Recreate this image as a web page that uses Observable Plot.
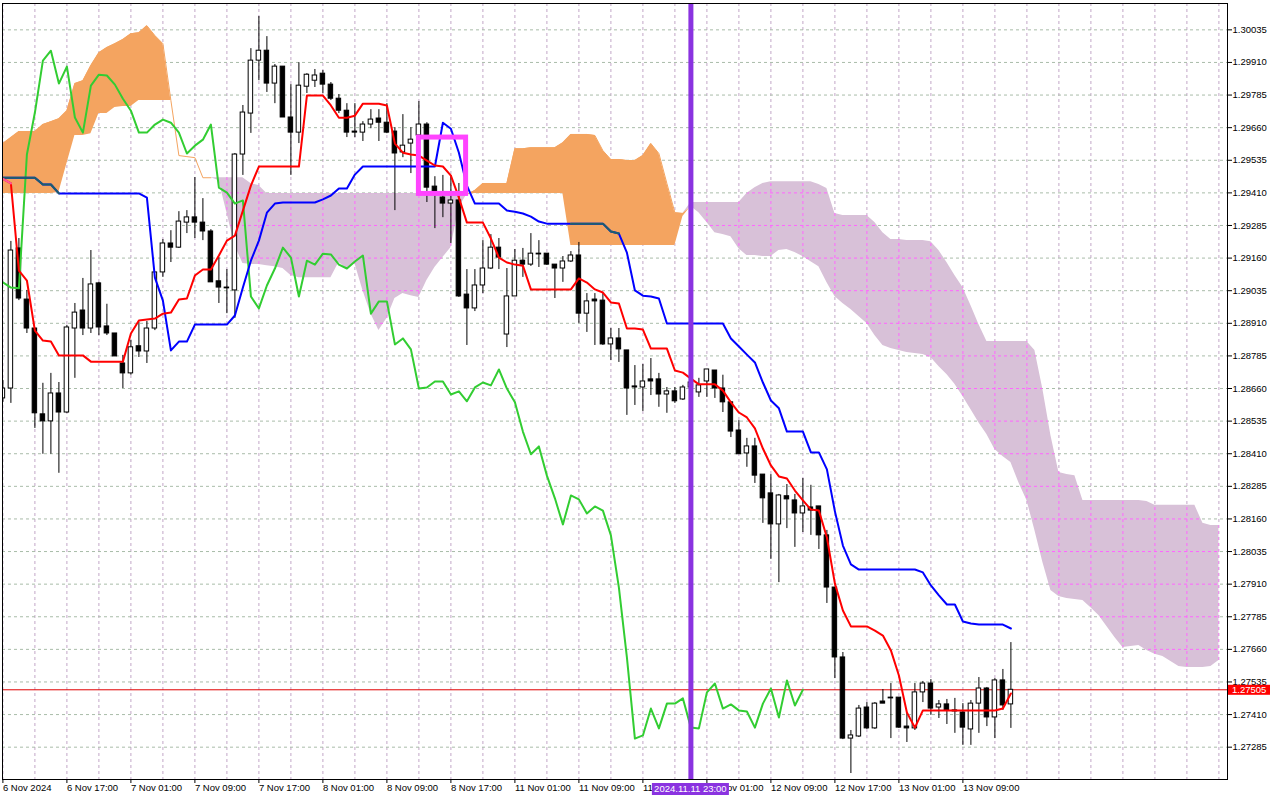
<!DOCTYPE html>
<html>
<head>
<meta charset="utf-8">
<script src="https://cdn.jsdelivr.net/npm/d3@7"></script>
<script src="https://cdn.jsdelivr.net/npm/@observablehq/plot@0.6"></script>
<style>
  html, body { margin: 0; padding: 0; background: #fff; }
  #chart { width: 1280px; height: 800px; }
</style>
</head>
<body>
<div id="chart"></div>
<script>
// ---------- data (hourly bars, index 0 = 6 Nov 2024 09:00) ----------
const open = [
1.28622,1.28660,1.29197,1.29001,1.28890,1.28561,1.28534,1.28641,1.28568,1.28890,
1.28959,1.28890,1.29063,1.28898,1.28871,1.28756,1.28718,1.28822,1.28802,1.28890,
1.29105,1.29216,1.29200,1.29296,1.29316,1.29296,1.29262,1.29071,1.29047,1.29036,
1.29557,1.29714,1.29917,1.29955,1.29829,1.29894,1.29699,1.29641,1.29817,1.29840,
1.29867,1.29825,1.29771,1.29725,1.29645,1.29641,1.29672,1.29695,1.29679,1.29645,
1.29565,1.29599,1.29630,1.29672,1.29434,1.29392,1.29369,1.29381,1.29020,1.28967,
1.29055,1.29120,1.29200,1.28867,1.29013,1.29150,1.29135,1.29177,1.29177,1.29135,
1.29120,1.29147,1.29170,1.28947,1.29001,1.28997,1.28829,1.28852,1.28806,1.28668,
1.28664,1.28695,1.28695,1.28637,1.28649,1.28618,1.28664,1.28645,1.28687,1.28729,
1.28660,1.28607,1.28499,1.28411,1.28438,1.28330,1.28258,1.28139,1.28247,1.28231,
1.28181,1.28204,1.28208,1.28097,1.27897,1.27629,1.27318,1.27326,1.27437,1.27357,
1.27460,1.27475,1.27475,1.27364,1.27357,1.27495,1.27529,1.27437,1.27449,1.27426,
1.27418,1.27353,1.27452,1.27510,1.27399,1.27541,1.27449];
const high = [
1.28691,1.29224,1.29235,1.29036,1.28890,1.28680,1.28718,1.28683,1.28902,1.28986,
1.29082,1.29189,1.29067,1.28983,1.28871,1.28787,1.28844,1.28914,1.28917,1.29105,
1.29231,1.29265,1.29338,1.29342,1.29469,1.29388,1.29269,1.29162,1.29116,1.29561,
1.29745,1.29963,1.30086,1.30009,1.29902,1.29894,1.29825,1.29909,1.29867,1.29883,
1.29879,1.29833,1.29787,1.29752,1.29752,1.29683,1.29729,1.29729,1.29752,1.29660,
1.29710,1.29660,1.29760,1.29679,1.29472,1.29477,1.29477,1.29446,1.29116,1.29116,
1.29227,1.29250,1.29235,1.29120,1.29193,1.29197,1.29254,1.29227,1.29177,1.29135,
1.29166,1.29185,1.29220,1.29024,1.29024,1.29024,1.28890,1.28890,1.28806,1.28748,
1.28752,1.28775,1.28718,1.28664,1.28664,1.28672,1.28699,1.28699,1.28733,1.28729,
1.28711,1.28607,1.28537,1.28469,1.28469,1.28330,1.28330,1.28254,1.28292,1.28254,
1.28315,1.28289,1.28208,1.28116,1.27897,1.27648,1.27349,1.27445,1.27456,1.27456,
1.27506,1.27529,1.27475,1.27414,1.27529,1.27537,1.27544,1.27464,1.27468,1.27472,
1.27452,1.27464,1.27552,1.27514,1.27548,1.27583,1.27686];
const low = [
1.28607,1.28603,1.28997,1.28871,1.28507,1.28408,1.28408,1.28335,1.28565,1.28699,
1.28863,1.28871,1.28863,1.28863,1.28783,1.28660,1.28711,1.28779,1.28756,1.28882,
1.29086,1.29143,1.29197,1.29254,1.29235,1.29227,1.29067,1.28986,1.28947,1.28929,
1.29477,1.29638,1.29840,1.29795,1.29752,1.29699,1.29477,1.29599,1.29791,1.29814,
1.29791,1.29764,1.29714,1.29622,1.29622,1.29607,1.29656,1.29607,1.29637,1.29342,
1.29545,1.29484,1.29572,1.29373,1.29273,1.29315,1.29216,1.29009,1.28825,1.28955,
1.29024,1.29116,1.29116,1.28817,1.29013,1.29086,1.29128,1.29124,1.29132,1.29005,
1.29067,1.29143,1.28910,1.28875,1.28825,1.28825,1.28767,1.28760,1.28557,1.28595,
1.28572,1.28633,1.28588,1.28565,1.28603,1.28614,1.28645,1.28626,1.28626,1.28622,
1.28568,1.28472,1.28408,1.28358,1.28296,1.28143,1.28005,1.27916,1.28123,1.28051,
1.28108,1.28097,1.28043,1.27836,1.27548,1.27314,1.27184,1.27322,1.27353,1.27353,
1.27452,1.27318,1.27357,1.27303,1.27349,1.27456,1.27407,1.27395,1.27372,1.27338,
1.27292,1.27292,1.27338,1.27364,1.27318,1.27426,1.27357];
const close = [
1.28660,1.29189,1.29005,1.28890,1.28565,1.28534,1.28641,1.28568,1.28894,1.28951,
1.28890,1.29059,1.28894,1.28871,1.28783,1.28718,1.28818,1.28802,1.28890,1.29105,
1.29216,1.29200,1.29300,1.29316,1.29296,1.29262,1.29067,1.29047,1.29044,1.29557,
1.29718,1.29917,1.29955,1.29829,1.29894,1.29699,1.29641,1.29821,1.29863,1.29860,
1.29825,1.29771,1.29725,1.29641,1.29641,1.29672,1.29691,1.29679,1.29641,1.29561,
1.29591,1.29614,1.29672,1.29430,1.29411,1.29369,1.29381,1.29013,1.28967,1.29055,
1.29120,1.29200,1.29162,1.29013,1.29150,1.29135,1.29177,1.29174,1.29135,1.29120,
1.29147,1.29170,1.28947,1.28994,1.28994,1.28829,1.28852,1.28810,1.28660,1.28664,
1.28687,1.28687,1.28637,1.28649,1.28611,1.28664,1.28683,1.28672,1.28733,1.28660,
1.28607,1.28495,1.28408,1.28438,1.28326,1.28239,1.28139,1.28250,1.28235,1.28181,
1.28208,1.28192,1.28097,1.27897,1.27629,1.27318,1.27330,1.27433,1.27357,1.27452,
1.27452,1.27472,1.27360,1.27357,1.27495,1.27529,1.27433,1.27449,1.27426,1.27422,
1.27360,1.27452,1.27510,1.27399,1.27541,1.27445,1.27505];

// Tenkan-sen (red) and Kijun-sen (blue), one value per bar
const tenkan = [
1.29464,1.29446,1.29112,1.29074,1.28882,1.28844,1.28840,1.28787,1.28787,1.28787,
1.28787,1.28763,1.28763,1.28763,1.28763,1.28763,1.28871,1.28921,1.28925,1.28928,
1.28947,1.28951,1.29001,1.29005,1.29093,1.29116,1.29116,1.29170,1.29227,1.29246,
1.29342,1.29438,1.29511,1.29511,1.29511,1.29511,1.29511,1.29511,1.29783,1.29783,
1.29783,1.29745,1.29698,1.29698,1.29706,1.29752,1.29752,1.29752,1.29745,1.29599,
1.29564,1.29557,1.29553,1.29534,1.29515,1.29511,1.29476,1.29392,1.29296,1.29296,
1.29296,1.29235,1.29162,1.29143,1.29135,1.29131,1.29040,1.29040,1.29040,1.29040,
1.29040,1.29040,1.29082,1.29066,1.29040,1.29028,1.28990,1.28986,1.28890,1.28890,
1.28886,1.28813,1.28813,1.28813,1.28729,1.28721,1.28698,1.28676,1.28676,1.28676,
1.28652,1.28607,1.28568,1.28549,1.28507,1.28430,1.28365,1.28323,1.28315,1.28269,
1.28231,1.28196,1.28192,1.28089,1.27912,1.27809,1.27748,1.27748,1.27748,1.27732,
1.27713,1.27656,1.27560,1.27418,1.27360,1.27426,1.27426,1.27426,1.27426,1.27426,
1.27426,1.27426,1.27426,1.27426,1.27426,1.27433,1.27491];
const kijun = [
1.29468,1.29468,1.29468,1.29468,1.29468,1.29442,1.29442,1.29408,1.29408,1.29408,
1.29408,1.29408,1.29408,1.29408,1.29408,1.29408,1.29408,1.29408,1.29392,1.29085,
1.28997,1.28806,1.28840,1.28840,1.28905,1.28905,1.28905,1.28905,1.28905,1.28940,
1.29047,1.29150,1.29227,1.29334,1.29369,1.29373,1.29373,1.29373,1.29373,1.29373,
1.29385,1.29400,1.29427,1.29427,1.29480,1.29511,1.29511,1.29511,1.29511,1.29511,
1.29511,1.29511,1.29511,1.29511,1.29511,1.29679,1.29656,1.29564,1.29438,1.29369,
1.29369,1.29369,1.29369,1.29342,1.29338,1.29331,1.29319,1.29300,1.29292,1.29292,
1.29292,1.29292,1.29292,1.29292,1.29292,1.29292,1.29262,1.29254,1.29181,1.29036,
1.29016,1.29013,1.29005,1.28909,1.28909,1.28909,1.28909,1.28909,1.28909,1.28909,
1.28909,1.28852,1.28821,1.28790,1.28760,1.28683,1.28614,1.28584,1.28495,1.28495,
1.28495,1.28415,1.28415,1.28350,1.28189,1.28058,1.27986,1.27966,1.27966,1.27966,
1.27966,1.27966,1.27966,1.27966,1.27966,1.27955,1.27905,1.27867,1.27832,1.27832,
1.27767,1.27759,1.27755,1.27755,1.27755,1.27755,1.27740];

// Senkou Span A / B as plotted (already shifted 26 bars ahead), bars 0..152
const spanA = [
1.29599,1.29622,1.29645,1.29645,1.29645,1.29672,1.29683,1.29694,1.29725,1.29829,
1.29840,1.29898,1.29947,1.29967,1.29982,1.29998,1.30020,1.30024,1.30051,1.30013,
1.29982,1.29764,1.29553,1.29549,1.29545,1.29468,1.29468,1.29457,1.29334,1.29208,
1.29139,1.29135,1.29135,1.29131,1.29127,1.29120,1.29093,1.29085,1.29085,1.29085,
1.29085,1.29085,1.29143,1.29120,1.29139,1.29036,1.28947,1.28882,1.28928,1.29005,
1.29024,1.29016,1.29009,1.29074,1.29124,1.29162,1.29200,1.29354,1.29404,1.29419,
1.29446,1.29446,1.29446,1.29446,1.29579,1.29579,1.29583,1.29583,1.29583,1.29583,
1.29602,1.29634,1.29634,1.29634,1.29630,1.29572,1.29538,1.29538,1.29534,1.29534,
1.29553,1.29599,1.29561,1.29446,1.29334,1.29331,1.29358,1.29334,1.29296,1.29257,
1.29250,1.29242,1.29196,1.29170,1.29170,1.29166,1.29166,1.29189,1.29193,1.29181,
1.29166,1.29146,1.29127,1.29066,1.29013,1.28986,1.28963,1.28936,1.28909,1.28863,
1.28825,1.28813,1.28806,1.28798,1.28794,1.28790,1.28779,1.28744,1.28714,1.28676,
1.28629,1.28580,1.28529,1.28484,1.28426,1.28399,1.28376,1.28299,1.28231,1.28116,
1.27993,1.27886,1.27863,1.27855,1.27851,1.27847,1.27820,1.27790,1.27748,1.27705,
1.27667,1.27671,1.27675,1.27656,1.27641,1.27633,1.27613,1.27594,1.27590,1.27590,
1.27590,1.27594,1.27617];
const spanB = [
1.29408,1.29408,1.29408,1.29408,1.29408,1.29408,1.29408,1.29411,1.29522,1.29630,
1.29630,1.29637,1.29714,1.29714,1.29737,1.29741,1.29741,1.29764,1.29764,1.29764,
1.29764,1.29764,1.29553,1.29549,1.29545,1.29468,1.29468,1.29468,1.29468,1.29468,
1.29468,1.29446,1.29438,1.29408,1.29408,1.29408,1.29408,1.29408,1.29408,1.29408,
1.29408,1.29408,1.29408,1.29408,1.29408,1.29408,1.29408,1.29408,1.29408,1.29408,
1.29408,1.29408,1.29408,1.29408,1.29408,1.29408,1.29408,1.29408,1.29404,1.29408,
1.29408,1.29408,1.29408,1.29408,1.29408,1.29408,1.29408,1.29408,1.29408,1.29408,
1.29408,1.29208,1.29208,1.29208,1.29208,1.29208,1.29208,1.29208,1.29208,1.29208,
1.29208,1.29208,1.29208,1.29208,1.29208,1.29319,1.29373,1.29373,1.29373,1.29373,
1.29373,1.29373,1.29373,1.29408,1.29430,1.29446,1.29453,1.29453,1.29453,1.29453,
1.29453,1.29453,1.29442,1.29427,1.29331,1.29323,1.29323,1.29323,1.29323,1.29296,
1.29257,1.29231,1.29231,1.29227,1.29227,1.29227,1.29223,1.29189,1.29143,1.29093,
1.29047,1.28978,1.28905,1.28840,1.28840,1.28840,1.28840,1.28840,1.28840,1.28806,
1.28656,1.28480,1.28338,1.28330,1.28326,1.28231,1.28231,1.28231,1.28231,1.28231,
1.28231,1.28231,1.28231,1.28227,1.28212,1.28212,1.28212,1.28212,1.28212,1.28212,
1.28143,1.28135,1.28135];

const chikouShift = 26;           // Chikou span = close plotted 26 bars back
const priceTicks = [1.30035,1.29910,1.29785,1.29660,1.29535,1.29410,1.29285,1.29160,1.29035,
  1.28910,1.28785,1.28660,1.28535,1.28410,1.28285,1.28160,1.28035,1.27910,1.27785,1.27660,
  1.27535,1.27410,1.27285];
const timeLabels = ["6 Nov 2024","6 Nov 17:00","7 Nov 01:00","7 Nov 09:00","7 Nov 17:00",
  "8 Nov 01:00","8 Nov 09:00","8 Nov 17:00","11 Nov 01:00","11 Nov 09:00","11 Nov 17:00",
  "12 Nov 01:00","12 Nov 09:00","12 Nov 17:00","13 Nov 01:00","13 Nov 09:00"];
const labelEvery = 8;             // one time label every 8 bars
const gridEvery = 4;              // vertical grid every 4 bars
const lastPrice = 1.27505;
const markerBar = 86;
const markerLabel = "2024.11.11 23:00";
const highlight = [{ bar1: 52.0, bar2: 57.9, top: 1.29622, bottom: 1.29406 }];

// ---------- derived tables ----------
const bars = d3.range(open.length);
const candles = bars.map(i => ({ i, o: open[i], h: high[i], l: low[i], c: close[i] }));
const kumoBars = d3.range(spanA.length);
const chikou = d3.range(close.length - chikouShift).map(j => ({ i: j, v: close[j + chikouShift] }));
const labelBars = timeLabels.map((_, k) => k * labelEvery);
const xMax = 153.075;
const yMin = 1.271611, yMax = 1.30136;
const gridBars = d3.range(0, Math.floor(xMax) + 1, gridEvery);
// where a line runs inside the orange (bullish) kumo, MT4 shows it in a blended tint
const inUpKumo = (i, v) => spanA[i] > spanB[i] && v <= spanA[i] + 4e-5 && v >= spanB[i] - 4e-5;

const FONT = "'Liberation Sans', Arial, sans-serif";
const ORANGE = "#f4a460", THISTLE = "#d8c1d8";

const chart = Plot.plot({
  width: 1280, height: 800,
  marginLeft: 2, marginRight: 53, marginTop: 3, marginBottom: 21,
  style: { fontFamily: FONT, fontSize: "9.5px", color: "#000", background: "#fff", overflow: "visible" },
  x: { type: "linear", domain: [-0.05, xMax] },
  y: { type: "linear", domain: [yMin, yMax] },
  marks: [
    // grid
    Plot.ruleX(gridBars, { x: d => d, stroke: "#c2a6c8", strokeDasharray: "3,3" }),
    Plot.ruleY(priceTicks, { y: d => d, stroke: "#a9bca9", strokeDasharray: "3,3" }),
    // kumo
    Plot.areaY(kumoBars, { x: i => i, y1: i => spanA[i],
      y2: i => spanA[i] > spanB[i] ? spanB[i] : spanA[i], fill: ORANGE, ariaDescription: "kumo-up" }),
    Plot.areaY(kumoBars, { x: i => i, y1: i => spanA[i],
      y2: i => spanB[i] > spanA[i] ? spanB[i] : spanA[i], fill: THISTLE, ariaDescription: "kumo-down" }),
    Plot.ruleX(gridBars, { x: d => d, stroke: "#ff66ff", strokeDasharray: "3,3", ariaDescription: "kumo-grid" }),
    Plot.ruleY(priceTicks, { y: d => d, stroke: "#ff66ff", strokeDasharray: "3,3", ariaDescription: "kumo-grid" }),
    Plot.line(kumoBars, { x: i => i, y: i => spanA[i] >= spanB[i] ? spanA[i] : NaN, stroke: ORANGE, strokeWidth: 1 }),
    // bid line
    Plot.ruleY([lastPrice], { y: d => d, stroke: "#e00000", strokeWidth: 1 }),
    // candles
    Plot.ruleX(candles, { x: "i", y1: "l", y2: "h", stroke: "#000", strokeWidth: 1, clip: true }),
    Plot.rect(candles, { x1: d => d.i - 0.28, x2: d => d.i + 0.28, y1: "o", y2: "c",
      fill: d => d.c >= d.o ? "#fff" : "#000", stroke: "#000", strokeWidth: 1, clip: true }),
    // ichimoku lines
    Plot.line(chikou, { x: "i", y: "v", stroke: "#32cd32", strokeWidth: 2, clip: true }),
    Plot.line(bars, { x: i => i, y: i => kijun[i], stroke: "#0000ff", strokeWidth: 2, clip: true }),
    Plot.line(bars, { x: i => i, y: i => inUpKumo(i, kijun[i]) ? kijun[i] : NaN,
      stroke: "#1c5f6c", strokeWidth: 2, clip: true }),
    Plot.line(bars, { x: i => i, y: i => tenkan[i], stroke: "#ff0000", strokeWidth: 2, clip: true }),
    Plot.line(bars, { x: i => i, y: i => inUpKumo(i, tenkan[i]) ? tenkan[i] : NaN,
      stroke: "#ff5c96", strokeWidth: 2, clip: true }),
    // annotations
    Plot.ruleX([markerBar], { x: d => d, stroke: "#8a33e0", strokeWidth: 5 }),
    Plot.rect(highlight, { x1: "bar1", x2: "bar2", y1: "bottom", y2: "top", fill: "none",
      stroke: "#ff44ff", strokeWidth: 5 }),
    // frame & axes
    Plot.frame({ stroke: "#000" }),
    Plot.axisY({ anchor: "right", ticks: priceTicks, tickFormat: d => d.toFixed(5),
      tickSize: 4, tickPadding: 1, label: null, fontSize: 9.5 }),
    Plot.axisX({ anchor: "bottom", ticks: labelBars, tickFormat: i => timeLabels[Math.round(i / labelEvery)],
      tickSize: 4, tickPadding: 1, textAnchor: "start", label: null, fontSize: 9.5 })
  ]
});

// clip the magenta grid to the thistle cloud
const NS = "http://www.w3.org/2000/svg";
const downG = chart.querySelector('g[aria-description="kumo-down"]');
const gridGs = chart.querySelectorAll('g[aria-description="kumo-grid"]');
if (downG) {
  const defs = document.createElementNS(NS, "defs");
  const cp = document.createElementNS(NS, "clipPath");
  cp.setAttribute("id", "kumoClip");
  downG.querySelectorAll("path").forEach(p => {
    const c = p.cloneNode(false);
    if (downG.getAttribute("transform")) c.setAttribute("transform", downG.getAttribute("transform"));
    cp.appendChild(c);
  });
  defs.appendChild(cp);
  chart.insertBefore(defs, chart.firstChild);
  gridGs.forEach(g => g.setAttribute("clip-path", "url(#kumoClip)"));
} else {
  gridGs.forEach(g => g.remove());
}

// price and time labels placed via the chart's own scales
const sx = chart.scale("x"), sy = chart.scale("y");
function add(tag, attrs, text) {
  const el = document.createElementNS(NS, tag);
  for (const k in attrs) el.setAttribute(k, attrs[k]);
  if (text != null) el.textContent = text;
  chart.appendChild(el);
  return el;
}
const plotRight = sx.apply(xMax);
const py = sy.apply(lastPrice);
add("rect", { x: plotRight + 1, y: py - 4.5, width: 42, height: 10, fill: "#ff0000" });
add("text", { x: plotRight + 5, y: py + 0.5, dy: "0.35em", "text-anchor": "start", fill: "#fff",
  "font-size": 9.5, "font-family": FONT }, lastPrice.toFixed(5));
const mx = sx.apply(markerBar);
const plotBottom = sy.apply(yMin);
add("rect", { x: mx - 38.5, y: plotBottom + 4, width: 77, height: 12, fill: "#8a33e0" });
add("text", { x: mx, y: plotBottom + 10, dy: "0.35em", "text-anchor": "middle", fill: "#fff",
  "font-size": 9.5, "font-family": FONT }, markerLabel);

document.getElementById("chart").appendChild(chart);
</script>
</body>
</html>
